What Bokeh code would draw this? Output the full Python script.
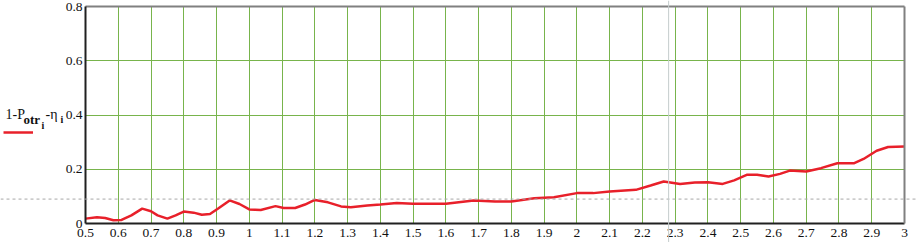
from bokeh.plotting import figure
from bokeh.models import (Span, Label, Legend, LegendItem, FixedTicker,
                          NumeralTickFormatter, Range1d, LinearAxis)
from bokeh.embed import file_html
from bokeh.resources import INLINE

# ---- data ----
x_vals = [0.5, 0.535, 0.56, 0.585, 0.61, 0.64, 0.673, 0.7, 0.72, 0.75, 0.775, 0.80,
          0.83, 0.855, 0.88, 0.905, 0.94, 0.97, 1.0, 1.035, 1.08, 1.105, 1.14, 1.17,
          1.2, 1.24, 1.28, 1.31, 1.36, 1.40, 1.45, 1.5, 1.6, 1.685, 1.75, 1.8, 1.87,
          1.93, 2.0, 2.05, 2.1, 2.18, 2.225, 2.265, 2.315, 2.36, 2.4, 2.445, 2.48,
          2.52, 2.55, 2.585, 2.62, 2.65, 2.7, 2.745, 2.795, 2.845, 2.875, 2.915,
          2.95, 3.0]
y_vals = [0.018, 0.023, 0.02, 0.012, 0.013, 0.03, 0.055, 0.045, 0.03, 0.018, 0.03, 0.044,
          0.04, 0.032, 0.035, 0.055, 0.085, 0.072, 0.052, 0.05, 0.064, 0.057, 0.057, 0.07,
          0.087, 0.078, 0.063, 0.06, 0.066, 0.07, 0.076, 0.073, 0.073, 0.085, 0.081, 0.081,
          0.093, 0.097, 0.112, 0.112, 0.118, 0.124, 0.14, 0.155, 0.146, 0.151, 0.152,
          0.146, 0.159, 0.18, 0.18, 0.173, 0.183, 0.195, 0.192, 0.204, 0.222, 0.222,
          0.238, 0.268, 0.282, 0.284]
x_ticks = [0.5, 0.6, 0.7, 0.8, 0.9, 1.0, 1.1, 1.2, 1.3, 1.4, 1.5, 1.6, 1.7, 1.8, 1.9,
           2.0, 2.1, 2.2, 2.3, 2.4, 2.5, 2.6, 2.7, 2.8, 2.9, 3.0]
y_ticks = [0, 0.2, 0.4, 0.6, 0.8]
h_marker = 0.09
v_marker = 2.28

FONT = "Liberation Serif"
RED = "#e8202a"
GRID = "#78b44c"
W, H = 916, 242
# plot box in window pixels
BL, BR, BT, BB = 85, 904, 6, 223

x0, x1 = x_ticks[0], x_ticks[-1]
y0, y1 = y_ticks[0], y_ticks[-1]
kx = (BR - BL) / (x1 - x0)
ky = (BB - BT) / (y1 - y0)

p = figure(width=W, height=H, output_backend="svg", toolbar_location=None,
           x_range=Range1d(x0 - BL / kx, x1 + (W - BR) / kx),
           y_range=Range1d(y0 - (H - BB) / ky, y1 + BT / ky),
           min_border=0)
p.background_fill_color = "white"
p.border_fill_color = "white"
p.outline_line_color = None
p.grid.visible = False

def style_axis(ax, ticks, color, labels=True):
    ax.ticker = FixedTicker(ticks=ticks)
    ax.formatter = NumeralTickFormatter(format="0.[0]")
    ax.major_tick_line_color = None
    ax.minor_tick_line_color = None
    ax.major_tick_out = 0
    ax.major_tick_in = 0
    ax.axis_line_color = color
    ax.axis_line_width = 2
    ax.major_label_text_font = FONT
    ax.major_label_text_font_size = "13.5px"
    ax.major_label_text_color = "#111111" if labels else None

# grid lines drawn as long inward ticks of unlabeled axes (so they stop at the box)
gx = LinearAxis(fixed_location=y0, level="underlay")
style_axis(gx, x_ticks[1:-1], None, labels=False)
gx.major_tick_line_color = GRID
gx.major_tick_in = BB - BT
p.add_layout(gx, "below")
gy = LinearAxis(fixed_location=x0, level="underlay")
style_axis(gy, y_ticks[1:-1], None, labels=False)
gy.major_tick_line_color = GRID
gy.major_tick_in = BR - BL
p.add_layout(gy, "left")

# main labelled axes
xa = p.xaxis[0]
xa.fixed_location = y0
xa.bounds = (x0, x1)
style_axis(xa, x_ticks, "#202020")
xa.major_label_standoff = 5
ya = p.yaxis[0]
ya.fixed_location = x0
ya.bounds = (y0, y1)
style_axis(ya, y_ticks, "#202020")
ya.major_label_standoff = 3

# grey top and right border of the box
top = LinearAxis(fixed_location=y1, bounds=(x0, x1))
style_axis(top, [], "#808080", labels=False)
p.add_layout(top, "above")
right = LinearAxis(fixed_location=x1, bounds=(y0, y1))
style_axis(right, [], "#808080", labels=False)
p.add_layout(right, "right")

# Mathcad markers
p.add_layout(Span(location=h_marker, dimension="width", line_color="#a8a8a8",
                  line_dash="3 3", line_width=1))
p.add_layout(Span(location=v_marker, dimension="height", line_color="#c4cccc",
                  line_width=1))

curve = p.line(x_vals, y_vals, line_color=RED, line_width=2.5)

legend = Legend(items=[LegendItem(label=" ", renderers=[curve])],
                location=(3, H - 135), padding=0, margin=0, spacing=0,
                glyph_width=30, glyph_height=6, label_standoff=0, label_width=0,
                label_height=6, label_text_font_size="1px",
                border_line_color=None, background_fill_alpha=0)
p.add_layout(legend)

# legend title "1-P_otr_i - η_i" built from text pieces
def lab(txt, sx, sy, size, style="normal"):
    p.add_layout(Label(x=sx, y=H - sy, x_units="screen", y_units="screen",
                       text=txt, text_font=FONT, text_font_size=size,
                       text_font_style=style, text_color="#111111",
                       text_baseline="alphabetic", text_align="left"))

lab("1-P", 5, 114, "14px")
lab("otr", 23, 119, "13px", "bold")
lab("i", 41, 125, "10px", "bold")
lab("-\u03b7", 45, 114, "14px")
lab("i", 60, 119, "10px", "bold")

open("out.html", "w").write(file_html(p, INLINE))
